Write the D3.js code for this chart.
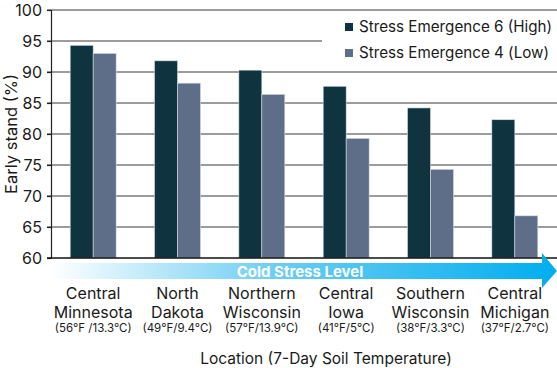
<!DOCTYPE html>
<html>
<head>
<meta charset="utf-8">
<script src="https://d3js.org/d3.v7.min.js"></script>
<style>
  body { margin: 0; background: #fff; }
  text { font-family: "Inter", sans-serif; fill: #1a1a1a; }
</style>
</head>
<body>
<svg width="557" height="368"></svg>
<script>
// chart data
var locations = ["Central Minnesota", "North Dakota", "Northern Wisconsin", "Central Iowa", "Southern Wisconsin", "Central Michigan"];
var nameLines = [["Central", "Minnesota"], ["North", "Dakota"], ["Northern", "Wisconsin"], ["Central", "Iowa"], ["Southern", "Wisconsin"], ["Central", "Michigan"]];
var temps = ["(56°F /13.3°C)", "(49°F/9.4°C)", "(57°F/13.9°C)", "(41°F/5°C)", "(38°F/3.3°C)", "(37°F/2.7°C)"];
var seriesNames = ["Stress Emergence 6 (High)", "Stress Emergence 4 (Low)"];
var highValues = [94.3, 91.8, 90.3, 87.7, 84.2, 82.3];
var lowValues = [93.0, 88.2, 86.4, 79.3, 74.3, 66.8];
var yTicks = [60, 65, 70, 75, 80, 85, 90, 95, 100];

var colors = ["#10343f", "#5e6e88"];

var svg = d3.select("svg");
var plotLeft = 51, plotRight = 557, plotTop = 10, plotBottom = 258;

var x = d3.scaleBand().domain(locations).range([plotLeft, plotRight])
  .paddingInner(0.455).paddingOuter(0.2275);
var x1 = d3.scaleBand().domain([0, 1]).range([0, x.bandwidth()]);
var y = d3.scaleLinear().domain([60, 100]).range([plotBottom, plotTop]);

// gridlines
svg.append("g")
  .selectAll("line")
  .data(yTicks.slice(1))
  .enter()
  .append("line")
  .attr("x1", plotLeft - 4)
  .attr("x2", plotRight)
  .attr("y1", function(d) { return y(d); })
  .attr("y2", function(d) { return y(d); })
  .attr("stroke", "#3a3a3a")
  .attr("stroke-width", 1.2);

// y axis
var yAxis = svg.append("g")
  .attr("transform", "translate(" + plotLeft + ",0)")
  .call(d3.axisLeft(y).tickValues(yTicks).tickSize(4).tickPadding(5));
yAxis.select(".domain").attr("stroke", "#222").attr("stroke-width", 1.2);
yAxis.selectAll(".tick line").attr("stroke", "#222").attr("stroke-width", 1.2);
yAxis.selectAll("text")
  .attr("font-family", "Inter, sans-serif")
  .attr("font-size", "16px")
  .attr("fill", "#1a1a1a");

// legend background hides the gridline behind it
svg.append("rect")
  .attr("x", 322).attr("y", 13)
  .attr("width", 235).attr("height", 55)
  .attr("fill", "#fff");

// bars
var groups = svg.append("g")
  .selectAll("g")
  .data(locations)
  .enter()
  .append("g")
  .attr("transform", function(d) { return "translate(" + x(d) + ",0)"; });

groups.selectAll("rect")
  .data(function(d, i) { return [highValues[i], lowValues[i]]; })
  .enter()
  .append("rect")
  .attr("x", function(d, j) { return x1(j); })
  .attr("y", function(d) { return y(d); })
  .attr("width", x1.bandwidth())
  .attr("height", function(d) { return plotBottom - y(d); })
  .attr("fill", function(d, j) { return colors[j]; })
  .attr("stroke", "#d6dde3")
  .attr("stroke-width", 0.6);

// baseline
svg.append("line")
  .attr("x1", plotLeft - 4).attr("x2", plotRight)
  .attr("y1", plotBottom).attr("y2", plotBottom)
  .attr("stroke", "#111").attr("stroke-width", 1.4);

// legend
var legend = svg.append("g");
seriesNames.forEach(function(name, i) {
  legend.append("rect")
    .attr("x", 345).attr("y", 23 + i * 26)
    .attr("width", 8).attr("height", 8)
    .attr("fill", colors[i]);
  legend.append("text")
    .attr("x", 359).attr("y", 32 + i * 26)
    .attr("font-size", "15.2px")
    .text(name);
});

// cold stress arrow
var defs = svg.append("defs");
var grad = defs.append("linearGradient")
  .attr("id", "arrowGrad")
  .attr("x1", "0%").attr("x2", "100%");
grad.append("stop").attr("offset", "0%").attr("stop-color", "#ffffff");
grad.append("stop").attr("offset", "45%").attr("stop-color", "#6acdf3");
grad.append("stop").attr("offset", "100%").attr("stop-color", "#00aeef");

var ay = 271;
svg.append("path")
  .attr("d", "M" + plotLeft + "," + (ay - 8) + "L542," + (ay - 8) + "L542," + (ay - 18) +
    "L557," + ay + "L542," + (ay + 17) + "L542," + (ay + 8) + "L" + plotLeft + "," + (ay + 8) + "Z")
  .attr("fill", "url(#arrowGrad)");

svg.append("text")
  .attr("x", 300).attr("y", 277)
  .attr("text-anchor", "middle")
  .attr("font-size", "15px")
  .attr("font-weight", "bold")
  .style("fill", "#fff")
  .text("Cold Stress Level");

// category labels
var labels = svg.append("g")
  .selectAll("g")
  .data(locations)
  .enter()
  .append("g")
  .attr("transform", function(d) { return "translate(" + (x(d) + x.bandwidth() / 2) + ",0)"; });

labels.each(function(d, i) {
  var g = d3.select(this);
  nameLines[i].forEach(function(line, k) {
    g.append("text")
      .attr("y", 299 + k * 19)
      .attr("text-anchor", "middle")
      .attr("font-size", "16px")
      .text(line);
  });
  g.append("text")
    .attr("y", 332)
    .attr("text-anchor", "middle")
    .attr("font-size", "11.5px")
    .text(temps[i]);
});

// axis titles
svg.append("text")
  .attr("x", 326).attr("y", 364)
  .attr("text-anchor", "middle")
  .attr("font-size", "15.5px")
  .text("Location (7-Day Soil Temperature)");

svg.append("text")
  .attr("transform", "translate(17,134) rotate(-90)")
  .attr("text-anchor", "middle")
  .attr("font-size", "16.5px")
  .text("Early stand (%)");
</script>
</body>
</html>
